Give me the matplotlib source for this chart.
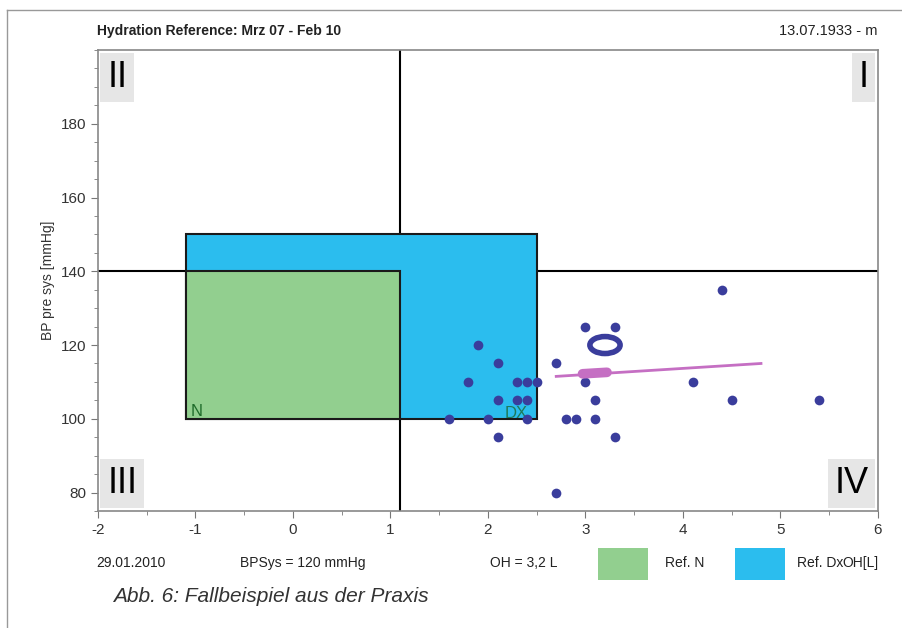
import matplotlib
matplotlib.use('Agg')
import matplotlib.pyplot as plt
from matplotlib.patches import Rectangle, Ellipse
from matplotlib.lines import Line2D
import matplotlib.ticker as ticker

plt.rcParams['font.family'] = ['Liberation Sans', 'DejaVu Sans']
plt.rcParams['axes.unicode_minus'] = False

# measurements: OH [L] vs BP pre sys [mmHg]
oh = [4.4, 3.0, 3.3, 1.9, 2.1, 2.7, 1.8, 2.3, 2.4, 2.5, 3.0, 4.1,
      2.1, 2.3, 2.4, 3.1, 4.5, 5.4, 1.6, 2.0, 2.4, 2.8, 2.9, 3.1,
      2.1, 3.3, 2.7]
bp = [135, 125, 125, 120, 115, 115, 110, 110, 110, 110, 110, 110,
      105, 105, 105, 105, 105, 105, 100, 100, 100, 100, 100, 100,
      95, 95, 80]

current_oh, current_bp = 3.2, 120
trend_x = [2.7, 4.8]
trend_y = [111.5, 115.0]
trend_head_x = [2.97, 3.22]
trend_head_y = [112.2, 112.6]

# reference areas (x0, x1, y0, y1)
ref_n = (-1.1, 1.1, 100, 140)
ref_dx = (-1.1, 2.5, 100, 150)
split_x, split_y = 1.1, 140

xticks = [-2, -1, 0, 1, 2, 3, 4, 5, 6]
yticks = [80, 100, 120, 140, 160, 180]

green = '#92cf8f'
blue = '#2bbdee'
navy = '#3a3d9c'
magenta = '#c56fc3'

fig = plt.figure(figsize=(9.03, 6.28), dpi=100)
ax = fig.add_axes([0.1085, 0.1863, 0.8638, 0.7341])

# cross lines sit under the reference areas
ax.axvline(split_x, color='black', linewidth=1.5, zorder=0.5)
ax.axhline(split_y, color='black', linewidth=1.5, zorder=0.5)

ax.add_patch(Rectangle((ref_dx[0], ref_dx[2]), ref_dx[1] - ref_dx[0], ref_dx[3] - ref_dx[2],
                       facecolor=blue, edgecolor='#1a1a1a', linewidth=1.5, zorder=1))
ax.add_patch(Rectangle((ref_n[0], ref_n[2]), ref_n[1] - ref_n[0], ref_n[3] - ref_n[2],
                       facecolor=green, edgecolor='#1a1a1a', linewidth=1.5, zorder=2))
ax.text(-1.05, 100.8, 'N', color='#1e6b2a', fontsize=12, zorder=3)
ax.text(2.17, 100.3, 'DX', color='#1e7a5a', fontsize=12, zorder=3)

ax.plot(oh, bp, 'o', color=navy, markersize=7, markeredgewidth=0, zorder=4)
ax.add_patch(Ellipse((current_oh, current_bp), 0.31, 4.6, facecolor='white',
                     edgecolor=navy, linewidth=4, zorder=5))
ax.plot(trend_x, trend_y, color=magenta, linewidth=2, zorder=5)
ax.plot(trend_head_x, trend_head_y, color=magenta, linewidth=7,
        solid_capstyle='round', zorder=5)

# quadrant labels
box = dict(facecolor='#e6e6e6', edgecolor='none', pad=5)
ax.text(0.012, 0.978, 'II', transform=ax.transAxes, fontsize=26, va='top', ha='left', bbox=box)
ax.text(0.988, 0.978, 'I', transform=ax.transAxes, fontsize=26, va='top', ha='right', bbox=box)
ax.text(0.012, 0.022, 'III', transform=ax.transAxes, fontsize=26, va='bottom', ha='left', bbox=box)
ax.text(0.988, 0.022, 'IV', transform=ax.transAxes, fontsize=26, va='bottom', ha='right', bbox=box)

ax.set_xlim(-2, 6)
ax.set_ylim(75, 200)
ax.set_xticks(xticks)
ax.set_yticks(yticks)
ax.xaxis.set_minor_locator(ticker.MultipleLocator(0.5))
ax.yaxis.set_minor_locator(ticker.MultipleLocator(5))
ax.tick_params(which='both', colors='#777777', labelcolor='#333333', labelsize=11)
ax.tick_params(which='major', length=5)
ax.tick_params(which='minor', length=3)
for s in ax.spines.values():
    s.set_color('#888888')
    s.set_linewidth(1.2)
ax.set_ylabel('BP pre sys [mmHg]', fontsize=10, color='#333333')

# header
fig.text(0.107, 0.951, 'Hydration Reference: Mrz 07 - Feb 10', fontsize=10,
         fontweight='bold', color='#222222', va='center')
fig.text(0.972, 0.951, '13.07.1933 - m', fontsize=10.5, color='#222222', va='center', ha='right')

# footer row
fy = 1 - 563 / 628
fig.text(0.107, fy, '29.01.2010', fontsize=10, color='#222222', va='center')
fig.text(0.266, fy, 'BPSys = 120 mmHg', fontsize=10, color='#222222', va='center')
fig.text(0.543, fy, 'OH = 3,2 L', fontsize=10, color='#222222', va='center')
fig.patches.append(Rectangle((598 / 903, 1 - 580 / 628), 50 / 903, 32 / 628,
                             transform=fig.transFigure, facecolor=green, edgecolor='none'))
fig.text(665 / 903, fy, 'Ref. N', fontsize=10, color='#222222', va='center')
fig.patches.append(Rectangle((735 / 903, 1 - 580 / 628), 50 / 903, 32 / 628,
                             transform=fig.transFigure, facecolor=blue, edgecolor='none'))
fig.text(797 / 903, fy, 'Ref. Dx', fontsize=10, color='#222222', va='center')
fig.text(879 / 903, fy, 'OH[L]', fontsize=10, color='#222222', va='center', ha='right')

# caption
fig.text(0.125, 1 - 597 / 628, 'Abb. 6: Fallbeispiel aus der Praxis', fontsize=15,
         style='italic', color='#333333', va='center')

# outer frame (top and left)
fig.lines.append(Line2D([7 / 903, 1], [1 - 10 / 628, 1 - 10 / 628], transform=fig.transFigure,
                        color='#999999', linewidth=1))
fig.lines.append(Line2D([7 / 903, 7 / 903], [0, 1 - 10 / 628], transform=fig.transFigure,
                        color='#999999', linewidth=1))

fig.savefig('out.png', dpi=100)
